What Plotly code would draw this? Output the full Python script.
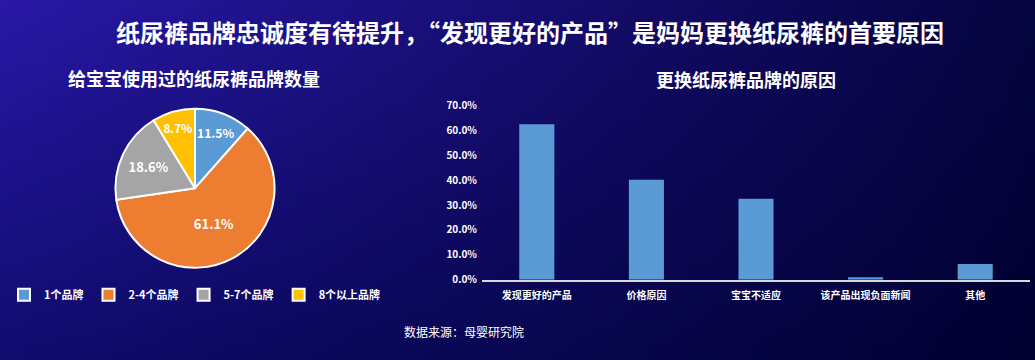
import base64
import struct
import zlib

import plotly.graph_objects as go

# ---- data ----
brand_labels = ["1个品牌", "2-4个品牌", "5-7个品牌", "8个以上品牌"]
brand_share = [11.5, 61.1, 18.6, 8.7]

reason_labels = ["发现更好的产品", "价格原因", "宝宝不适应", "该产品出现负面新闻", "其他"]
reason_share = [62.5, 40.2, 32.5, 1.0, 6.3]

y_ticks = [0, 10, 20, 30, 40, 50, 60, 70]

# ---- styling ----
W, H = 1035, 360
FONT = "Noto Sans CJK SC"
PIE_COLORS = ["#5B9BD5", "#ED7D31", "#A5A5A5", "#FFC000"]
BAR_COLOR = "#5B9BD5"


def px_x(x):
    return x / W


def px_y(y):
    return 1 - y / H


def gradient_png(w, h):
    """Small diagonal blue gradient, stretched over the whole page."""
    tl, tr = (42, 24, 168), (4, 4, 62)
    bl, br = (16, 12, 112), (0, 0, 48)
    rows = []
    for j in range(h):
        fy = j / (h - 1)
        row = bytearray(b"\x00")
        for i in range(w):
            fx = i / (w - 1)
            for c in range(3):
                top = tl[c] * (1 - fx) + tr[c] * fx
                bot = bl[c] * (1 - fx) + br[c] * fx
                row.append(int(round(top * (1 - fy) + bot * fy)))
        rows.append(bytes(row))
    raw = b"".join(rows)

    def chunk(tag, data):
        body = tag + data
        return struct.pack(">I", len(data)) + body + struct.pack(">I", zlib.crc32(body) & 0xFFFFFFFF)

    png = b"\x89PNG\r\n\x1a\n"
    png += chunk(b"IHDR", struct.pack(">IIBBBBB", w, h, 8, 2, 0, 0, 0))
    png += chunk(b"IDAT", zlib.compress(raw, 9))
    png += chunk(b"IEND", b"")
    return "data:image/png;base64," + base64.b64encode(png).decode()


fig = go.Figure()

fig.add_trace(go.Pie(
    labels=brand_labels,
    values=brand_share,
    sort=False,
    direction="clockwise",
    rotation=0,
    marker=dict(colors=PIE_COLORS, line=dict(color="white", width=2)),
    texttemplate="%{value:.1f}%",
    textposition="inside",
    insidetextorientation="horizontal",
    textfont=dict(family=FONT, size=13, color="white", weight="bold"),
    hoverinfo="label+value",
    domain=dict(x=[px_x(112), px_x(278)], y=[px_y(271), px_y(105)]),
    showlegend=True,
))

fig.add_trace(go.Bar(
    x=reason_labels,
    y=reason_share,
    marker=dict(color=BAR_COLOR, line=dict(width=0)),
    showlegend=False,
    xaxis="x",
    yaxis="y",
))

fig.update_layout(
    width=W,
    height=H,
    margin=dict(l=0, r=0, t=0, b=0),
    paper_bgcolor="#1a1280",
    plot_bgcolor="rgba(0,0,0,0)",
    font=dict(family=FONT, color="white"),
    bargap=0.68,
    xaxis=dict(
        domain=[px_x(482), px_x(1030)],
        showline=True,
        linecolor="#d9d9d9",
        linewidth=2,
        showgrid=False,
        zeroline=False,
        ticks="",
        ticklabelstandoff=5,
        tickfont=dict(family=FONT, size=10, color="white", weight="bold"),
        anchor="y",
    ),
    yaxis=dict(
        domain=[px_y(283.5), px_y(101.7)],
        range=[0, 70],
        tickvals=y_ticks,
        ticktext=[f"{v:.1f}%" for v in y_ticks],
        showgrid=False,
        zeroline=False,
        showline=False,
        ticks="",
        ticklabelstandoff=4,
        tickfont=dict(family=FONT, size=10, color="white", weight="bold"),
        anchor="x",
    ),
    legend=dict(
        orientation="h",
        x=px_x(195),
        xanchor="center",
        y=px_y(284),
        yanchor="top",
        font=dict(family=FONT, size=11, color="white", weight="bold"),
        bgcolor="rgba(0,0,0,0)",
        itemwidth=30,
        tracegroupgap=0,
    ),
    images=[dict(
        source=gradient_png(104, 36),
        xref="paper", yref="paper",
        x=-0.02, y=1.03, sizex=1.04, sizey=1.06,
        xanchor="left", yanchor="top",
        sizing="stretch",
        layer="below",
    )],
    annotations=[
        dict(
            text="纸尿裤品牌忠诚度有待提升，“发现更好的产品”是妈妈更换纸尿裤的首要原因",
            x=px_x(530), y=px_y(25), xref="paper", yref="paper",
            xanchor="center", yanchor="middle", showarrow=False,
            font=dict(family=FONT, size=24, color="white", weight="bold"),
        ),
        dict(
            text="给宝宝使用过的纸尿裤品牌数量",
            x=px_x(194), y=px_y(73), xref="paper", yref="paper",
            xanchor="center", yanchor="middle", showarrow=False,
            font=dict(family=FONT, size=18, color="white", weight="bold"),
        ),
        dict(
            text="更换纸尿裤品牌的原因",
            x=px_x(746), y=px_y(74), xref="paper", yref="paper",
            xanchor="center", yanchor="middle", showarrow=False,
            font=dict(family=FONT, size=18, color="white", weight="bold"),
        ),
        dict(
            text="数据来源：母婴研究院",
            x=px_x(464), y=px_y(338), xref="paper", yref="paper",
            xanchor="center", yanchor="middle", showarrow=False,
            font=dict(family=FONT, size=12, color="white"),
        ),
    ],
)

fig.write_html("out.html")
